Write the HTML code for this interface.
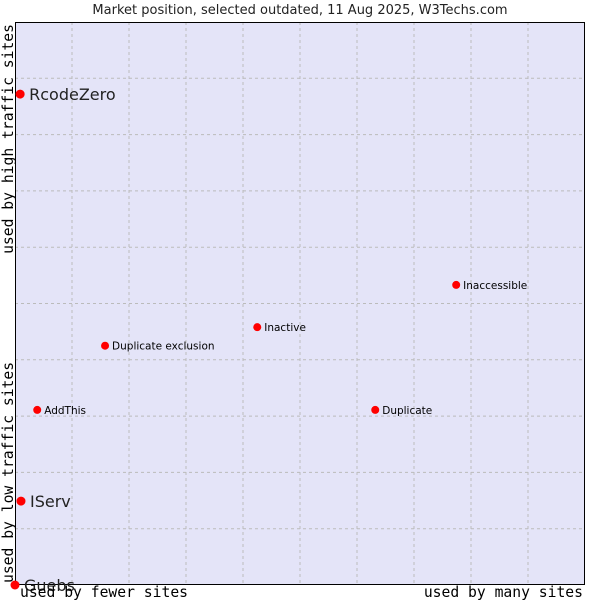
<!DOCTYPE html>
<html><head><meta charset="utf-8"><style>
body{margin:0;background:#fff;}
svg{display:block;font-family:"DejaVu Sans","Liberation Sans",sans-serif;}
</style></head><body>
<svg id="chart" width="600" height="600">
<text x="300" y="14" text-anchor="middle" font-size="13" fill="#222">Market position, selected outdated, 11 Aug 2025, W3Techs.com</text>
<rect x="15" y="22" width="570" height="563" fill="#e4e4f8"/>
<g id="grid"></g>
<rect x="15.5" y="22.5" width="569" height="562" fill="none" stroke="#000" stroke-width="1"/>
<g id="points"></g>
<text x="20" y="597" font-family="DejaVu Sans Mono,Liberation Mono,monospace" font-size="14.7" fill="#000">used by fewer sites</text>
<text x="583" y="597" text-anchor="end" font-family="DejaVu Sans Mono,Liberation Mono,monospace" font-size="14.7" fill="#000">used by many sites</text>
<text transform="translate(13,583) rotate(-90)" font-family="DejaVu Sans Mono,Liberation Mono,monospace" font-size="14.7" fill="#000">used by low traffic sites</text>
<text transform="translate(13,24) rotate(-90)" text-anchor="end" font-family="DejaVu Sans Mono,Liberation Mono,monospace" font-size="14.7" fill="#000">used by high traffic sites</text>
</svg>
<script>
const names=["RcodeZero","IServ","Guebs","AddThis","Duplicate exclusion","Inactive","Inaccessible","Duplicate"];
const xValues=[0.9,1.05,0,3.9,15.8,42.5,77.4,63.2];
const yValues=[87.2,14.9,0,31.1,42.5,45.8,53.3,31.1];
const bigLabel=[true,true,true,false,false,false,false,false];
const NS="http://www.w3.org/2000/svg";
const X0=15,X1=585,Y0=585,Y1=22;
function sx(v){return X0+v/100*(X1-X0);}
function sy(v){return Y0-v/100*(Y0-Y1);}
const grid=document.getElementById('grid');
for(let i=1;i<10;i++){
 let l=document.createElementNS(NS,'line');
 
 
 l.setAttribute('x1',sx(i*10));l.setAttribute('x2',sx(i*10));l.setAttribute('y1',Y1);l.setAttribute('y2',Y0);
 l.setAttribute('stroke','#bbb');l.setAttribute('stroke-dasharray','3,3');grid.appendChild(l);
 let h=document.createElementNS(NS,'line');
 
 
 h.setAttribute('x1',X0);h.setAttribute('x2',X1);h.setAttribute('y1',sy(i*10));h.setAttribute('y2',sy(i*10));
 h.setAttribute('stroke','#bbb');h.setAttribute('stroke-dasharray','3,3');grid.appendChild(h);
}
const pts=document.getElementById('points');
names.forEach((n,i)=>{
 const x=sx(xValues[i]),y=sy(yValues[i]);
 const c=document.createElementNS(NS,'circle');
 
 
 c.setAttribute('cx',x);c.setAttribute('cy',y);c.setAttribute('r',bigLabel[i]?4.5:4);c.setAttribute('fill','#f00');
 pts.appendChild(c);
 const t=document.createElementNS(NS,'text');
 
 
 t.setAttribute('x',x+(bigLabel[i]?9:7));t.setAttribute('y',y+(bigLabel[i]?6:4));
 t.setAttribute('font-size',bigLabel[i]?16:10.5);t.setAttribute('fill',bigLabel[i]?'#222':'#000');
 t.textContent=n;pts.appendChild(t);
});
</script>
</body></html>
